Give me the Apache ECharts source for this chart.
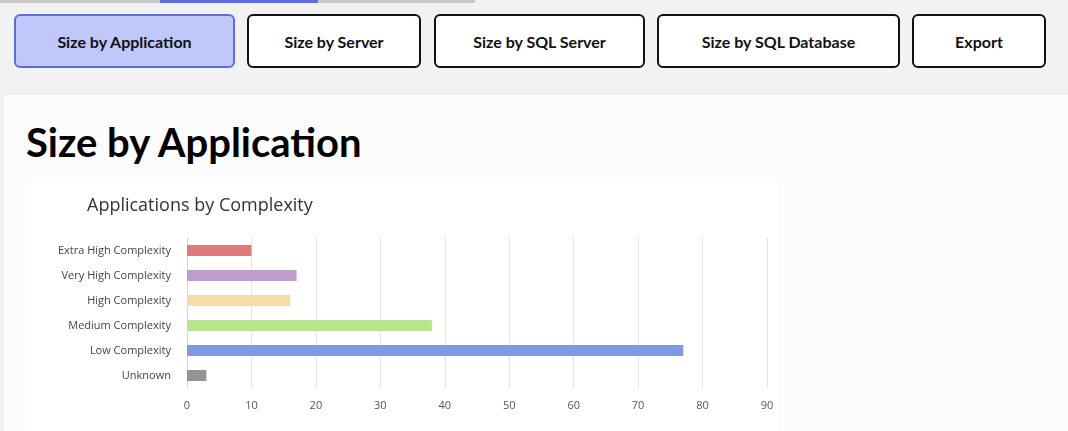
<!DOCTYPE html>
<html><head><meta charset="utf-8">
<script src="https://cdn.jsdelivr.net/npm/echarts@6/dist/echarts.min.js"></script>
<style>
body{margin:0;width:1068px;height:431px;background:#f3f2f3;font-family:Poppins,"Open Sans",Lato,sans-serif;position:relative;overflow:hidden}
.strip{position:absolute;top:0;height:3px}
.btn{position:absolute;top:14px;height:50px;border:2px solid #111;border-radius:6px;background:#fff;box-sizing:content-box;display:flex;align-items:center;justify-content:center;font-weight:700;font-size:16px;color:#111;font-family:Lato,"Open Sans",sans-serif}
.btn.active{background:#c0c8fb;border-color:#5b6ee0}
.panel{position:absolute;left:4px;top:95px;right:0;bottom:0;background:#fcfcfc}
h1{position:absolute;left:26px;top:118px;margin:0;font-size:40px;font-weight:700;font-family:Lato,"Open Sans",sans-serif;color:#000}
#card{position:absolute;left:25px;top:182px;width:753px;height:249px;background:#fff}
#chart{width:753px;height:249px}
</style></head><body>
<div class="strip" style="left:0;width:160px;background:#c8c8c8"></div>
<div class="strip" style="left:160px;width:158px;background:#5d6fe8"></div>
<div class="strip" style="left:318px;width:157px;background:#c8c8c8"></div>
<div class="btn active" style="left:14px;width:217px">Size by Application</div>
<div class="btn" style="left:247px;width:170px">Size by Server</div>
<div class="btn" style="left:434px;width:207px">Size by SQL Server</div>
<div class="btn" style="left:657px;width:239px">Size by SQL Database</div>
<div class="btn" style="left:912px;width:130px">Export</div>
<div class="panel"></div>
<h1>Size by Application</h1>
<div id="card"><div id="chart"></div></div>
<script>
const categories=["Unknown","Low Complexity","Medium Complexity","High Complexity","Very High Complexity","Extra High Complexity"];
const values=[3,77,38,16,17,10];
const colors=["#939396","#7f9ae3","#b8e68c","#f8dca6","#c09ccd","#e07a7a"];
const chart=echarts.init(document.getElementById('chart'));
chart.setOption({
 animation:false,
 title:{text:"Applications by Complexity",left:57,top:10,textStyle:{fontFamily:"Open Sans",fontWeight:400,fontSize:18,color:"#333"}},
 grid:{left:162,right:11,top:56,bottom:43},
 xAxis:{type:'value',min:0,max:90,interval:10,axisLine:{show:false},axisTick:{show:false},
  splitLine:{lineStyle:{color:'#e6e6e6'}},axisLabel:{color:'#555',fontSize:11,margin:12,fontFamily:"Open Sans"}},
 yAxis:{type:'category',data:categories,axisTick:{show:false},axisLine:{lineStyle:{color:'#ccd6eb'}},
  axisLabel:{color:'#444',fontSize:11,margin:16,fontFamily:"Open Sans"}},
 series:[{type:'bar',barWidth:11,data:values.map((v,i)=>({value:v,itemStyle:{color:colors[i]}}))}]
});
</script></body></html>
